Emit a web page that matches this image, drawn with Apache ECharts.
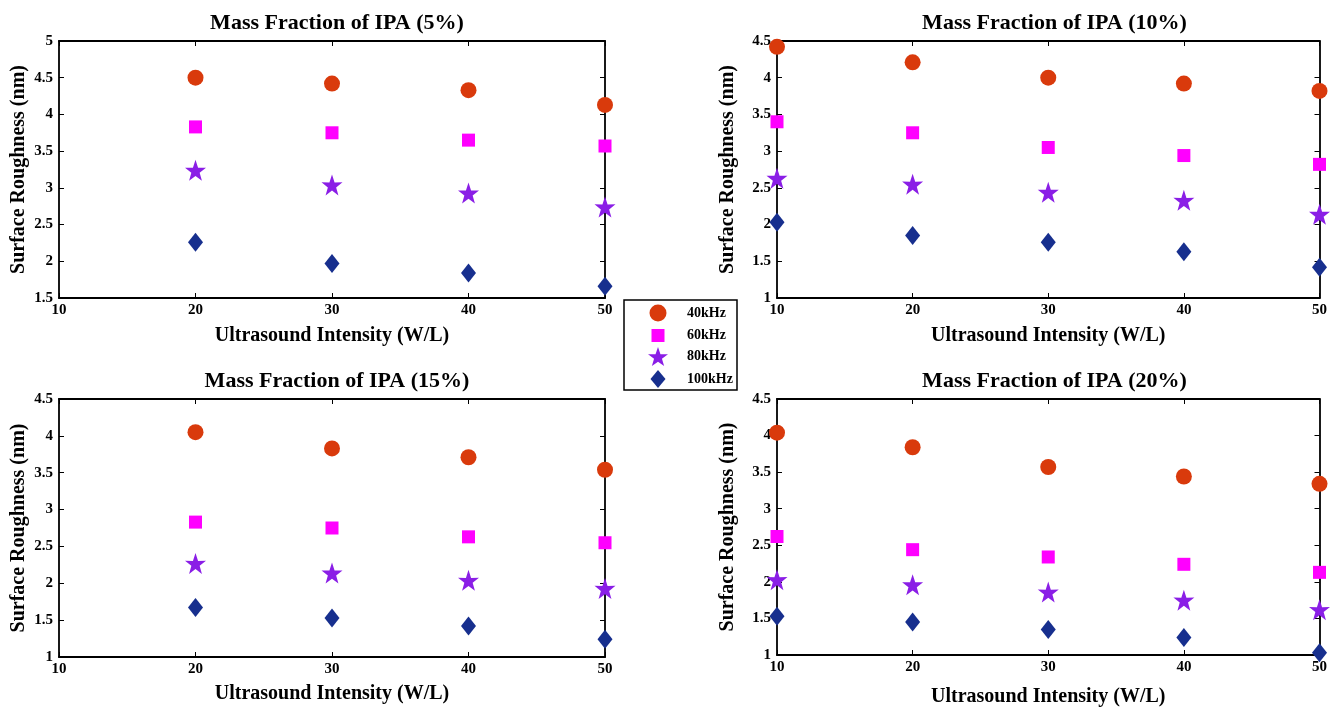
<!DOCTYPE html>
<html>
<head>
<meta charset="utf-8">
<script src="https://cdn.jsdelivr.net/npm/echarts@6/dist/echarts.min.js"></script>
<style>html,body{margin:0;padding:0;background:#fff;}#c{width:1330px;height:708px;}</style>
</head>
<body>
<div id="c"></div>
<script>
// ---- data ----
const freqNames = ['40kHz', '60kHz', '80kHz', '100kHz'];
const panelTitles = ['Mass Fraction of IPA (5%)', 'Mass Fraction of IPA (10%)', 'Mass Fraction of IPA (15%)', 'Mass Fraction of IPA (20%)'];
const xTicks = [10, 20, 30, 40, 50];

// 5%
const x5 = [20, 30, 40, 50];
const ipa5_40 = [4.50, 4.42, 4.33, 4.13];
const ipa5_60 = [3.83, 3.75, 3.65, 3.57];
const ipa5_80 = [3.24, 3.04, 2.93, 2.74];
const ipa5_100 = [2.26, 1.97, 1.84, 1.66];
// 10%
const x10 = [10, 20, 30, 40, 50];
const ipa10_40 = [4.42, 4.21, 4.00, 3.92, 3.82];
const ipa10_60 = [3.40, 3.25, 3.05, 2.94, 2.82];
const ipa10_80 = [2.63, 2.55, 2.44, 2.33, 2.14];
const ipa10_100 = [2.03, 1.85, 1.76, 1.63, 1.42];
// 15%
const x15 = [20, 30, 40, 50];
const ipa15_40 = [4.05, 3.83, 3.71, 3.54];
const ipa15_60 = [2.83, 2.75, 2.63, 2.55];
const ipa15_80 = [2.27, 2.14, 2.04, 1.93];
const ipa15_100 = [1.67, 1.53, 1.42, 1.24];
// 20%
const x20 = [10, 20, 30, 40, 50];
const ipa20_40 = [4.04, 3.84, 3.57, 3.44, 3.34];
const ipa20_60 = [2.62, 2.44, 2.34, 2.24, 2.13];
const ipa20_80 = [2.03, 1.96, 1.86, 1.75, 1.62];
const ipa20_100 = [1.53, 1.45, 1.35, 1.24, 1.03];

const yMins = [1.5, 1, 1, 1];
const yMaxs = [5, 4.5, 4.5, 4.5];

// ---- styles ----
const FONT = 'Liberation Serif';
const colors = ['#D93A0C', '#FF00FF', '#8A1EE6', '#172F8E'];
const starPath = 'path://M50,0 L61.8,35.1 L98.1,34.5 L69,56.5 L79.4,91.5 L50,70.5 L20.6,91.5 L31,56.5 L1.9,34.5 L38.2,35.1 Z';
const symbols = ['circle', 'rect', starPath, 'diamond'];
const symbolSizes = [16, 13, 21, [15, 19]];

const panels = [
  { x: x5, ys: [ipa5_40, ipa5_60, ipa5_80, ipa5_100] },
  { x: x10, ys: [ipa10_40, ipa10_60, ipa10_80, ipa10_100] },
  { x: x15, ys: [ipa15_40, ipa15_60, ipa15_80, ipa15_100] },
  { x: x20, ys: [ipa20_40, ipa20_60, ipa20_80, ipa20_100] }
];

const grids = [
  { left: 59, top: 41, width: 546, height: 257 },
  { left: 777, top: 41, width: 545, height: 257 },
  { left: 59, top: 399, width: 546, height: 258 },
  { left: 777, top: 399, width: 545, height: 258 }
];
const xNameGaps = [28, 28, 27, 32];
const yNameGaps = [30, 39, 30, 39];
const titleTops = [7, 7, 365, 365];

const axisLineStyle = { color: '#000', width: 1.8 };
const labelStyle = { fontFamily: FONT, fontWeight: 'bold', fontSize: 15, color: '#000' };

const xAxis = [], yAxis = [], series = [], title = [];
grids.forEach((g, i) => {
  title.push({
    text: panelTitles[i], left: g.left + g.width / 2, top: titleTops[i], textAlign: 'center',
    textStyle: { fontFamily: FONT, fontWeight: 'bold', fontSize: 22, color: '#000' }
  });
});
for (let i = 0; i < 4; i++) {
  xAxis.push({
    type: 'value', gridIndex: i, min: 10, max: 50, interval: 10, position: 'bottom',
    name: 'Ultrasound Intensity (W/L)', nameLocation: 'middle', nameGap: xNameGaps[i],
    nameTextStyle: { fontFamily: FONT, fontWeight: 'bold', fontSize: 20, color: '#000' },
    axisLine: { show: true, onZero: false, lineStyle: axisLineStyle },
    axisTick: { show: true, inside: true, length: 5, lineStyle: { color: '#000', width: 1 } },
    axisLabel: Object.assign({ margin: 5, formatter: v => xTicks.includes(v) ? String(v) : '' }, labelStyle),
    splitLine: { show: false }
  });
  yAxis.push({
    type: 'value', gridIndex: i, min: yMins[i], max: yMaxs[i], interval: 0.5, position: 'left',
    name: 'Surface Roughness (nm)', nameLocation: 'middle', nameGap: yNameGaps[i], nameRotate: 90,
    nameTextStyle: { fontFamily: FONT, fontWeight: 'bold', fontSize: 20, color: '#000' },
    axisLine: { show: true, onZero: false, lineStyle: axisLineStyle },
    axisTick: { show: true, inside: true, length: 5, lineStyle: { color: '#000', width: 1 } },
    axisLabel: Object.assign({ margin: 6 }, labelStyle),
    splitLine: { show: false }
  });
}
// mirrored box axes (top / right) with inward ticks
for (let i = 0; i < 4; i++) {
  xAxis.push({
    type: 'value', gridIndex: i, min: 10, max: 50, interval: 10, position: 'top',
    axisLine: { show: true, onZero: false, lineStyle: axisLineStyle },
    axisTick: { show: true, inside: true, length: 5, lineStyle: { color: '#000', width: 1 } },
    axisLabel: { show: false }, splitLine: { show: false }
  });
  yAxis.push({
    type: 'value', gridIndex: i, min: yMins[i], max: yMaxs[i], interval: 0.5, position: 'right',
    axisLine: { show: true, onZero: false, lineStyle: axisLineStyle },
    axisTick: { show: true, inside: true, length: 5, lineStyle: { color: '#000', width: 1 } },
    axisLabel: { show: false }, splitLine: { show: false }
  });
}

panels.forEach((p, i) => {
  p.ys.forEach((vals, j) => {
    series.push({
      type: 'scatter', name: freqNames[j], xAxisIndex: i, yAxisIndex: i,
      symbol: symbols[j], symbolSize: symbolSizes[j],
      itemStyle: { color: colors[j], opacity: 1 },
      data: p.x.map((xv, k) => [xv, vals[k]]),
      z: 10 - j
    });
  });
});

// legend: one legend per row for per-icon sizing
const legendRowsY = [313, 335, 357, 379];
const legendIconW = [17, 13, 20, 15];
const legendIconH = [17, 13, 20, 18];
const ICON_CX = 658, TEXT_X = 687;
const legend = freqNames.map((n, j) => ({
  data: [n], orient: 'vertical', padding: 0, itemGap: 0,
  left: ICON_CX - legendIconW[j] / 2, top: legendRowsY[j] - legendIconH[j] / 2,
  itemWidth: legendIconW[j], itemHeight: legendIconH[j], selectedMode: false,
  textStyle: { fontFamily: FONT, fontWeight: 'bold', fontSize: 14, color: '#000',
    padding: [0, 0, 0, TEXT_X - (ICON_CX + legendIconW[j] / 2 + 5)] },
  z: 20
}));

const chart = echarts.init(document.getElementById('c'), null, { renderer: 'canvas' });
chart.setOption({
  backgroundColor: '#fff',
  animation: false,
  title: title,
  grid: grids,
  xAxis: xAxis,
  yAxis: yAxis,
  legend: legend,
  graphic: [{
    type: 'rect', z: 1, silent: true,
    shape: { x: 624, y: 300, width: 113, height: 90 },
    style: { fill: '#fff', stroke: '#000', lineWidth: 1.5 }
  }],
  series: series
});
</script>
</body>
</html>
